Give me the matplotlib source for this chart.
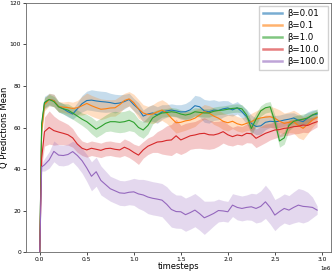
import matplotlib
matplotlib.use("Agg")
import matplotlib.pyplot as plt
from matplotlib.lines import Line2D
import numpy as np

# timesteps in millions
steps = [0.0, 0.02] + [round(0.05 * i, 2) for i in range(1, 60)]

labels = ["β=0.01", "β=0.1", "β=1.0", "β=10.0", "β=100.0"]
colors = ["tab:blue", "tab:orange", "tab:green", "tab:red", "tab:purple"]

beta_001 = [0, 60, 72, 73.5, 73, 70, 69, 67.6, 66.5, 69, 71.5, 73, 73.2, 72.8, 72.5, 72.3,
            72, 71.5, 71.8, 72.5, 73.5, 71, 69, 65.5, 66.5, 67, 66, 67.5, 68, 68.4, 68,
            67.5, 67.6, 68.5, 70.5, 70, 68, 67.6, 68.4, 68.2, 69, 69.4, 68.5, 69.5, 67.6,
            65.2, 62, 60.5, 60.8, 62.5, 63, 62.8, 63, 63.6, 64, 64.6, 63.5, 62.8, 64.6, 66, 66.5]
beta_01 = [0, 58, 71, 73.5, 73, 70, 69.8, 69.6, 69.2, 69.5, 70.5, 71.6, 70.5, 69.6, 68.8, 69,
           69.4, 69.5, 71, 73, 73.8, 72, 69, 67, 66.2, 66.5, 67.5, 68.4, 67, 64.5, 62.3,
           62.5, 63.2, 63.6, 64.5, 66, 67.6, 67, 65.5, 64.5, 63, 62.3, 63, 61.8, 61.2,
           62, 62.8, 64, 64.6, 65, 65.2, 64.5, 63, 62, 62.5, 62.8, 61, 59.6, 61.5, 63.6, 65]
beta_1 = [0, 62, 72, 73.5, 72.5, 70, 69, 68.4, 67, 65.5, 64, 62.8, 61, 59.2, 60.5, 62,
          62.8, 62.8, 62.5, 62.8, 63.5, 62.5, 60, 58.8, 61, 64.6, 66, 67, 67.2, 67.6, 67.3,
          66.5, 66, 66.5, 67.6, 67.3, 67, 67, 67.8, 68.2, 68.4, 68.8, 69.2, 69.4, 69,
          66, 59.5, 64, 68, 69.5, 70, 63, 53.5, 55, 61, 63, 63.6, 64, 64.6, 66, 67]
beta_10 = [0, 45, 58, 60, 58.5, 57.8, 57.2, 56.5, 55, 52, 50, 49.2, 50, 49.5, 49, 49.8,
           50, 49.5, 49.2, 50.5, 49.5, 48, 46.7, 49.2, 51, 52, 53, 53.2, 53.8, 54, 56,
           54, 55, 56, 56.4, 57, 57.2, 56.5, 56.4, 57, 58, 56.5, 55.6, 56.4, 56,
           57.2, 57, 54.8, 56, 57.2, 58, 58.8, 59, 59.6, 59.8, 60.4, 60.6, 61.2, 61, 62, 62.8]
beta_100 = [0, 41, 42, 44.4, 48.5, 46.7, 46.5, 47, 48.4, 46.5, 44, 40.5, 36.5, 38.7, 34.5, 32.5,
            30.5, 29.5, 28.5, 28.3, 28.8, 29, 28, 27.5, 26.5, 25.9, 25.5, 25, 23, 20.5, 19.5,
            19.4, 18, 19, 20.2, 18.5, 16.5, 17.5, 18.6, 20, 19.8, 19.4, 22.6, 21.5, 21,
            21.5, 21.8, 21, 22, 24.2, 21.5, 17.8, 19.5, 21, 20.2, 21.5, 22.6, 22, 21.8, 21.5, 20.2]

# half width of the shaded band
spread_001 = [0, 2, 3, 3, 3, 2.5, 2.5, 2.5, 2.5, 3, 4, 4.5, 5, 5, 5, 5,
              4.5, 4.5, 4, 3.5, 3, 3, 3, 3, 3.5, 4, 4, 3.5, 3, 3, 3,
              3.5, 4, 4.5, 5, 5, 5.5, 5.5, 5, 4.5, 4, 3.5, 3, 3, 3,
              3.5, 4, 4, 4, 3.5, 3, 3, 3, 3, 3, 2.5, 2.5, 3, 3, 2.5, 2]
spread_01 = [0, 2, 3, 3, 3, 2.5, 2.5, 3, 3, 3.5, 4.5, 5, 5, 5, 5, 4.5,
             4, 4, 4, 3.5, 3.5, 4, 4.5, 4, 4, 4.5, 5, 5, 5, 5, 5,
             4.5, 4.5, 4, 4, 3.5, 3.5, 3.5, 4, 4, 4, 4, 3.5, 3.5, 3.5,
             3.5, 4, 4, 4.5, 5, 5, 5, 5.5, 5, 5, 5.5, 6, 5.5, 4.5, 3.5, 2.5]
spread_1 = [0, 2, 2.5, 2.5, 2.5, 2.5, 2.5, 3, 3, 3, 3, 3.5, 4, 4, 4, 4,
            4.5, 5, 5, 5, 5, 4.5, 4, 4, 4, 3, 2.5, 2, 2, 2, 2,
            2, 2, 2, 2, 2, 2, 2, 2, 2, 2, 2, 2, 2, 2,
            2.5, 3.5, 3, 2.5, 2.5, 2.5, 3, 3, 3, 2.5, 2.5, 2.5, 2.5, 2.5, 2, 2]
spread_10 = [0, 4, 7, 8, 7, 6, 5.5, 5, 4.5, 4, 3.5, 3.5, 3.5, 3.5, 3.5, 3.5,
             3.5, 3.5, 3.5, 4, 4, 4, 4.5, 4, 4, 4, 5, 6, 7, 7.5, 8,
             7, 7, 6.5, 6.5, 7, 7.5, 7, 6.5, 6, 5.5, 5, 4.5, 4.5, 4.5,
             4.5, 4.5, 4.5, 4.5, 4.5, 4, 4, 3.5, 3.5, 3.5, 3.5, 3.5, 3.5, 3.5, 3, 2.5]
spread_100 = [0, 2, 3, 4, 5, 5, 5, 5, 5, 5.5, 6, 6.5, 7, 7, 7, 6.5,
              6, 6, 6, 6, 6, 6.5, 7, 7.5, 8, 8, 8, 8, 8.5, 8.5, 8,
              8, 8, 8, 8, 8, 8, 7, 6, 5.5, 5, 5, 5.5, 6, 6,
              6, 6.5, 7, 7.5, 8, 8, 7.5, 7, 7, 7, 7.5, 8, 8, 7, 5, 2]

means = [beta_001, beta_01, beta_1, beta_10, beta_100]
spreads = [spread_001, spread_01, spread_1, spread_10, spread_100]

x = np.array(steps) * 1e6

fig = plt.figure(figsize=(3.32, 2.71), dpi=100)
ax = fig.add_axes([0.078, 0.07, 0.919, 0.919])

for m, s, c in zip(means, spreads, colors):
    m = np.array(m)
    s = np.array(s)
    ax.fill_between(x, m - s, m + s, color=c, alpha=0.25, lw=0)
    ax.plot(x, m, color=c, lw=0.8)

ax.set_ylim(0, 120)
ax.set_xlabel("timesteps", fontsize=6, labelpad=0)
ax.set_ylabel("Q Predictions Mean", fontsize=6)
ax.yaxis.set_label_coords(-0.055, 0.5)
ax.tick_params(labelsize=4.3, length=2, width=0.5, pad=1.5)
ax.xaxis.get_offset_text().set_fontsize(4)
for sp in ax.spines.values():
    sp.set_linewidth(0.6)
    sp.set_color("#666666")

# legend swatches are drawn a bit thicker and lighter than the curves
handles = [Line2D([], [], color=c, lw=1.8, alpha=0.6) for c in colors]
ax.legend(handles, labels, loc="upper right", fontsize=6.2, handlelength=2.2,
          borderpad=0.45, labelspacing=0.35, handletextpad=0.6, framealpha=0.9,
          fancybox=False, borderaxespad=0.3)

fig.savefig("out.png", dpi=100)
